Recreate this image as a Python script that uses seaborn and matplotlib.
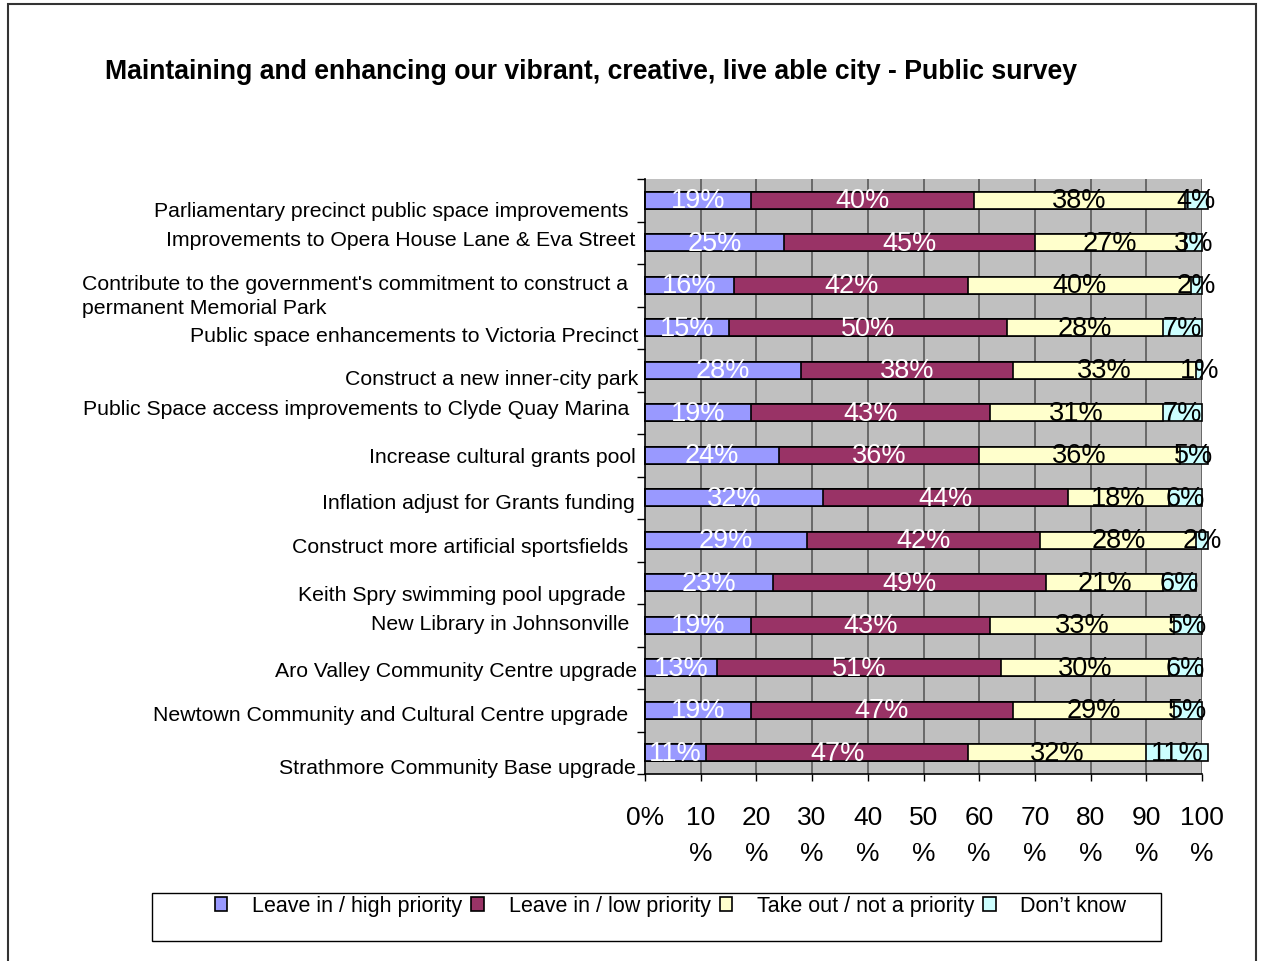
import numpy as np
import pandas as pd
import seaborn as sns
import matplotlib
matplotlib.use("Agg")
import matplotlib.pyplot as plt
import matplotlib.transforms as mtrans
from matplotlib.patches import Rectangle, Patch

categories = [
    "Parliamentary precinct public space improvements",
    "Improvements to Opera House Lane & Eva Street",
    "Contribute to the government's commitment to construct a\npermanent Memorial Park",
    "Public space enhancements to Victoria Precinct",
    "Construct a new inner-city park",
    "Public Space access improvements to Clyde Quay Marina",
    "Increase cultural grants pool",
    "Inflation adjust for Grants funding",
    "Construct more artificial sportsfields",
    "Keith Spry swimming pool upgrade",
    "New Library in Johnsonville",
    "Aro Valley Community Centre upgrade",
    "Newtown Community and Cultural Centre upgrade",
    "Strathmore Community Base upgrade",
]
series_names = ["Leave in / high priority", "Leave in / low priority",
                "Take out / not a priority", "Don\u2019t know"]
high_priority = [19, 25, 16, 15, 28, 19, 24, 32, 29, 23, 19, 13, 19, 11]
low_priority = [40, 45, 42, 50, 38, 43, 36, 44, 42, 49, 43, 51, 47, 47]
not_priority = [38, 27, 40, 28, 33, 31, 36, 18, 28, 21, 33, 30, 29, 32]
dont_know = [4, 3, 2, 7, 1, 7, 5, 6, 2, 6, 5, 6, 5, 11]
tick_values = list(range(0, 101, 10))
tick_labels = ["0%"] + [f"{v}\n%" for v in tick_values[1:]]
title = "Maintaining and enhancing our vibrant, creative, live able city - Public survey"

# styling
colors = ["#9999FF", "#993366", "#FFFFCC", "#CCFFFF"]
text_colors = ["white", "white", "black", "black"]
# pixel nudges for the category labels (right edge relative to axis, vertical shift)
label_dx = [-16, -10, -17, -7, -7, -16, -9, -10, -17, -19, -16, -8, -17, -9]
label_dy = [10, -3, 10, 8, 8, -4, 1, 5, 6, 12, -2, 3, 4, 15]

sns.set_theme(style="white")
plt.rcParams["font.family"] = ["Liberation Sans", "DejaVu Sans"]
plt.rcParams["text.color"] = "black"
plt.rcParams["xtick.color"] = "black"
plt.rcParams["ytick.color"] = "black"
plt.rcParams["xtick.labelcolor"] = "black"

W, H, DPI = 1263, 962, 100
fig = plt.figure(figsize=(W / DPI, H / DPI), dpi=DPI)
ax = fig.add_axes([645 / W, 1 - 775 / H, (1202 - 645) / W, (775 - 180) / H])
ax.set_facecolor("#C0C0C0")

values = np.array([high_priority, low_priority, not_priority, dont_know], dtype=float)
cum = np.cumsum(values, axis=0)

# stacked bars: draw cumulative totals from the longest back to the shortest
for i in reversed(range(4)):
    df = pd.DataFrame({"category": categories, "value": cum[i]})
    sns.barplot(data=df, x="value", y="category", orient="h", color=colors[i],
                saturation=1, width=0.4, edgecolor="black", linewidth=1.2,
                ax=ax, zorder=3)
for p in ax.patches:
    p.set_clip_on(False)

# segment labels
for i in range(4):
    starts = cum[i] - values[i]
    for j in range(len(categories)):
        ax.text(starts[j] + values[i][j] / 2, j, f"{int(values[i][j])}%",
                ha="center", va="center", fontsize=19.5, color=text_colors[i],
                zorder=5, clip_on=False)

ax.set_xlim(0, 100)
ax.set_ylim(len(categories) - 0.5, -0.5)
ax.set_xlabel("")
ax.set_ylabel("")

# vertical gridlines
for v in tick_values[1:]:
    ax.axvline(v, color="#505050", lw=1.1, zorder=1)

ax.set_xticks(tick_values)
ax.set_xticklabels(tick_labels, fontsize=19, linespacing=1.65)
ax.tick_params(axis="x", length=5, width=1, color="black", pad=17, bottom=True)

ax.set_yticks([])
ax.set_yticks(np.arange(-0.5, len(categories), 1), minor=True)
ax.tick_params(axis="y", which="minor", length=6, width=1, color="black", left=True)

for s in ["top", "right"]:
    ax.spines[s].set_visible(False)
for s in ["left", "bottom"]:
    ax.spines[s].set_color("black")
    ax.spines[s].set_linewidth(1.2)
    ax.spines[s].set_zorder(4)

# category labels
yax = ax.get_yaxis_transform()
for j, name in enumerate(categories):
    off = mtrans.ScaledTranslation(label_dx[j] / DPI, -label_dy[j] / DPI, fig.dpi_scale_trans)
    ax.text(0, j, name, transform=yax + off, ha="right", va="center",
            multialignment="left", fontsize=15.3, color="black", linespacing=1.35)

fig.text(105 / W, 1 - 72 / H, title, fontsize=19.2, fontweight="bold",
         ha="left", va="center", color="black")

# legend
handles = [Patch(facecolor=c, edgecolor="black", linewidth=1.2) for c in colors]
leg = fig.legend(handles, series_names, loc="center left",
                 bbox_to_anchor=(215 / W, 1 - 907 / H), ncol=4, frameon=False,
                 fontsize=15.5, handlelength=0.58, handleheight=0.58,
                 handletextpad=1.15, columnspacing=0.42, borderpad=0, borderaxespad=0)

fig.patches.append(Rectangle((152 / W, 1 - 942 / H), (1161 - 152) / W, 48 / H,
                             transform=fig.transFigure, fill=False,
                             edgecolor="black", linewidth=1))
fig.patches.append(Rectangle((8 / W, -0.05), (1256 - 8) / W, 1.05 - 5 / H,
                             transform=fig.transFigure, fill=False,
                             edgecolor="#333333", linewidth=1.5))

fig.savefig("out.png", dpi=DPI)
